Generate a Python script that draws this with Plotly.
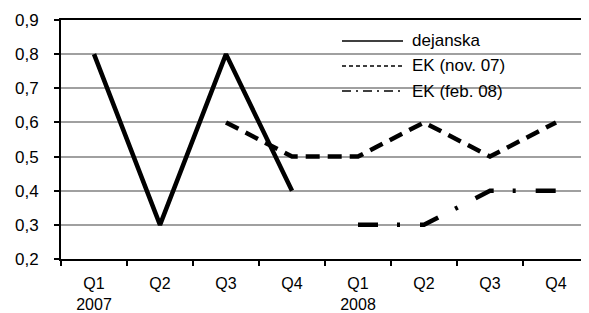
import plotly.graph_objects as go

# ---- data ----
quarters = ["Q1<br>2007", "Q2", "Q3", "Q4", "Q1<br>2008", "Q2", "Q3", "Q4"]
dejanska = [0.8, 0.3, 0.8, 0.4, None, None, None, None]
ek_nov07 = [None, None, 0.6, 0.5, 0.5, 0.6, 0.5, 0.6]
ek_feb08 = [None, None, None, None, 0.3, 0.3, 0.4, 0.4]
series_names = ["dejanska", "EK (nov. 07)", "EK (feb. 08)"]
y_ticks = [0.2, 0.3, 0.4, 0.5, 0.6, 0.7, 0.8, 0.9]
y_ticktext = ["0,2", "0,3", "0,4", "0,5", "0,6", "0,7", "0,8", "0,9"]

x = list(range(len(quarters)))
FONT = "Liberation Sans, Arial, sans-serif"
FS = 17

# the page body has an 8px margin; compensate so the picture lines up
OFF = 8
W, H = 589 - OFF, 313 - OFF
ML, MR, MT, MB = 61 - OFF, 0, 20 - OFF, 54
PW, PH = W - ML - MR, H - MT - MB

def px2x(p):
    return (p - OFF - ML) / PW

def py2y(p):
    return (H - MB - (p - OFF)) / PH

fig = go.Figure()
fig.add_trace(go.Scatter(x=x, y=dejanska, mode="lines", name=series_names[0],
                         line=dict(color="black", width=4.5), showlegend=False))
fig.add_trace(go.Scatter(x=x, y=ek_nov07, mode="lines", name=series_names[1],
                         line=dict(color="black", width=4.5, dash="14px,8px"), showlegend=False))
fig.add_trace(go.Scatter(x=x, y=ek_feb08, mode="lines", name=series_names[2],
                         line=dict(color="black", width=4.5, dash="20px,19px,3px,20px"), showlegend=False))

shapes = [
    dict(type="rect", xref="paper", yref="paper", x0=px2x(302), x1=px2x(545),
         y0=py2y(104), y1=py2y(21), fillcolor="white", line=dict(width=0), layer="between"),
]
legend_rows = [41, 66, 91]
legend_dash = ["solid", "4px,3px", "9px,5px,2px,5px"]
annotations = []
for name, row, d in zip(series_names, legend_rows, legend_dash):
    shapes.append(dict(type="line", xref="paper", yref="paper", x0=px2x(342), x1=px2x(403),
                       y0=py2y(row), y1=py2y(row), line=dict(color="black", width=1.5, dash=d),
                       layer="above"))
    annotations.append(dict(xref="paper", yref="paper", x=px2x(410), y=py2y(row), text=name,
                            showarrow=False, xanchor="left", yanchor="middle",
                            font=dict(family=FONT, size=FS, color="black")))

fig.update_layout(
    width=W, height=H,
    margin=dict(l=ML, r=MR, t=MT, b=MB, autoexpand=False),
    paper_bgcolor="white", plot_bgcolor="white",
    font=dict(family=FONT, size=FS, color="black"),
    shapes=shapes, annotations=annotations,
    showlegend=False,
)
fig.update_xaxes(
    automargin=False,
    range=[-0.5, len(quarters) - 0.5],
    tickvals=x, ticktext=quarters, ticks="",
    tickfont=dict(size=16),
    showgrid=False, zeroline=False,
    showline=True, linecolor="black", linewidth=2, mirror=True,
    ticklabelstandoff=9,
    minor=dict(tickvals=[i - 0.5 for i in range(len(quarters) + 1)], ticks="outside",
               ticklen=5, tickcolor="black", tickwidth=2, showgrid=False),
)
fig.update_yaxes(
    automargin=False,
    range=[0.2, 0.9],
    tickvals=y_ticks, ticktext=y_ticktext,
    ticks="outside", ticklen=5, tickcolor="black", tickwidth=1.5,
    showgrid=True, gridcolor="#a0a0a0", gridwidth=1.5,
    zeroline=False,
    showline=True, linecolor="black", linewidth=2,
    ticklabelstandoff=12,
)

fig.write_html("out.html")
